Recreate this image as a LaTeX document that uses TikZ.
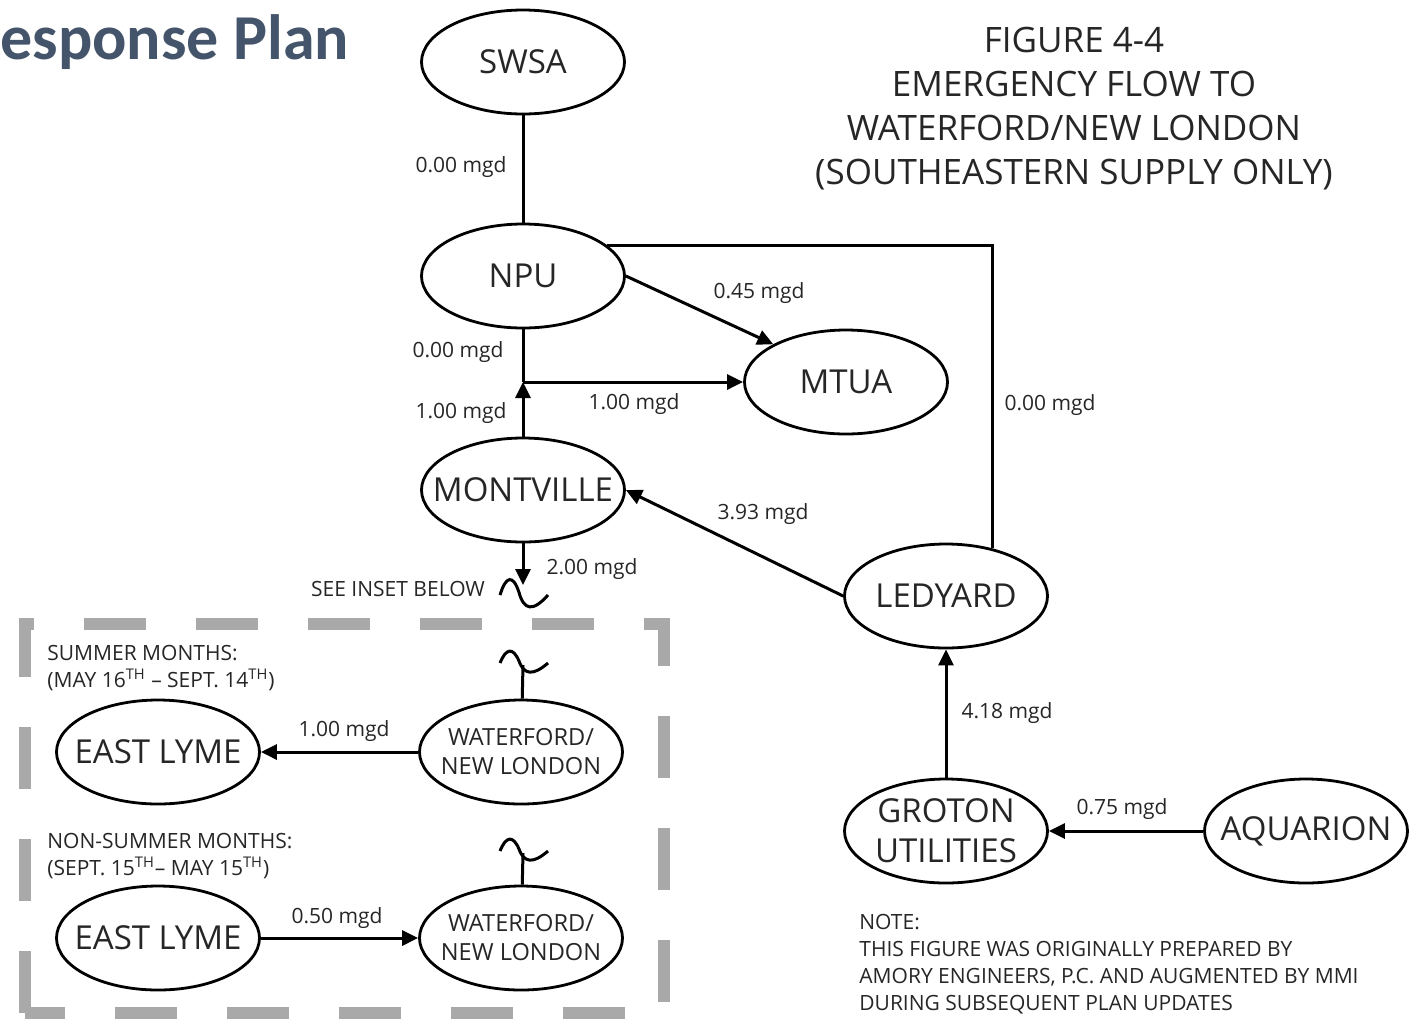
\documentclass[tikz,border=0pt]{standalone}
\usepackage{fontspec}
\setmainfont{Open Sans}
\newfontfamily\headfont{Carlito}
\usepackage{xcolor}
\usetikzlibrary{arrows.meta,shapes.geometric}

\definecolor{headblue}{HTML}{44546A}
\definecolor{insetgray}{HTML}{A9A9A9}
\definecolor{txtgray}{HTML}{262626}

% break mark on a pipe
\newcommand{\brk}[2][1]{\draw[wire, shift={(#2)}, yscale=#1] (-23,0) .. controls (-17,-15) and (-10,-16) .. (-4,-2) .. controls (1,12) and (10,13) .. (25,0);}

\begin{document}
\begin{tikzpicture}[
    x=0.5pt, y=-0.5pt,
    site/.style={ellipse, draw, line width=1.4pt, minimum width=101.5pt, minimum height=52pt, inner xsep=-30pt, inner ysep=0pt, align=center, font=\fontsize{16.5}{20}\selectfont, text=txtgray},
    town/.style={site, font=\fontsize{11.8}{14.5}\selectfont},
    flow/.style={font=\fontsize{10.5}{13.5}\selectfont, text=txtgray, inner sep=0pt},
    wire/.style={line width=1.5pt},
    arrow/.style={wire, -{Triangle[length=8pt, width=7.5pt]}},
    inset/.style={insetgray, line width=6pt, dash pattern=on 31pt off 25pt}
]
\useasboundingbox (0,0) rectangle (1417,1019);

% inset frame
\draw[inset] (25,1013) -- (25,624) -- (664,624) -- (664,1013) -- cycle;

\node[font=\headfont\bfseries\fontsize{32}{38}\selectfont, text=headblue, anchor=base west, inner sep=0pt] (head) at (0,59) {esponse Plan};
\node[font=\fontsize{17.5}{22}\selectfont, text=txtgray, align=center, inner sep=0pt] (title) at (1074,109) {FIGURE 4-4\\EMERGENCY FLOW TO\\WATERFORD/NEW LONDON\\(SOUTHEASTERN SUPPLY ONLY)};

% utilities
\node[site] (swsa) at (523,62) {SWSA};
\node[site] (npu) at (523,276) {NPU};
\node[site] (mtua) at (846,382) {MTUA};
\node[site] (mont) at (523,490) {MONTVILLE};
\node[site] (led) at (946,596) {LEDYARD};
\node[site] (gro) at (946,831) {GROTON\\UTILITIES};
\node[site] (aq) at (1306,831) {AQUARION};
\node[site] (ely1) at (158,752) {EAST LYME};
\node[town] (wnl1) at (521,752) {WATERFORD/\\NEW LONDON};
\node[site] (ely2) at (158,938) {EAST LYME};
\node[town] (wnl2) at (521,938) {WATERFORD/\\NEW LONDON};

\coordinate (jn) at (523,382);
\coordinate (cut0) at (523,585);
\coordinate (cut1) at (523,665);
\coordinate (cut2) at (523,853);

% pipes
\draw[wire] (swsa) -- (npu);
\draw[wire] (npu) -- (jn);
\draw[arrow] (mont) -- (jn);
\draw[arrow] (jn) -- (mtua.west);
\draw[arrow] (npu.east) -- (mtua.north west);
\draw[wire] (npu.20) -| (led.46);
\draw[arrow] (led.west) -- (mont.east);
\draw[arrow] (gro) -- (led);
\draw[arrow] (aq) -- (gro);
\draw[arrow] (mont) -- (cut0);
\draw[arrow] (wnl1) -- (ely1);
\draw[arrow] (ely2) -- (wnl2);
\draw[wire] (cut1) -- (wnl1);
\draw[wire] (cut2) -- (wnl2);
\brk[1.3]{523,595}
\brk{523,663}
\brk{523,851}

% flows
\node[flow] (f1) at (461,167) {0.00 mgd};
\node[flow] (f2) at (458,352) {0.00 mgd};
\node[flow] (f3) at (461,413) {1.00 mgd};
\node[flow] (f4) at (634,404) {1.00 mgd};
\node[flow] (f5) at (759,293) {0.45 mgd};
\node[flow] (f6) at (1050,405) {0.00 mgd};
\node[flow] (f7) at (763,514) {3.93 mgd};
\node[flow] (f8) at (592,569) {2.00 mgd};
\node[flow] (f9) at (1007,713) {4.18 mgd};
\node[flow] (f10) at (1122,809) {0.75 mgd};
\node[flow] (f11) at (344,731) {1.00 mgd};
\node[flow] (f12) at (337,918) {0.50 mgd};
\node[flow] (see) at (398,589) {SEE INSET BELOW};

\node[flow, anchor=north west, align=left] (summer) at (47,645) {SUMMER MONTHS:\\(MAY 16\textsuperscript{TH} – SEPT. 14\textsuperscript{TH})};
\node[flow, anchor=north west, align=left] (winter) at (47,833) {NON-SUMMER MONTHS:\\(SEPT. 15\textsuperscript{TH}– MAY 15\textsuperscript{TH})};
\node[flow, anchor=north west, align=left] (note) at (859,914) {NOTE:\\THIS FIGURE WAS ORIGINALLY PREPARED BY\\AMORY ENGINEERS, P.C. AND AUGMENTED BY MMI\\DURING SUBSEQUENT PLAN UPDATES};
\end{tikzpicture}
\end{document}
